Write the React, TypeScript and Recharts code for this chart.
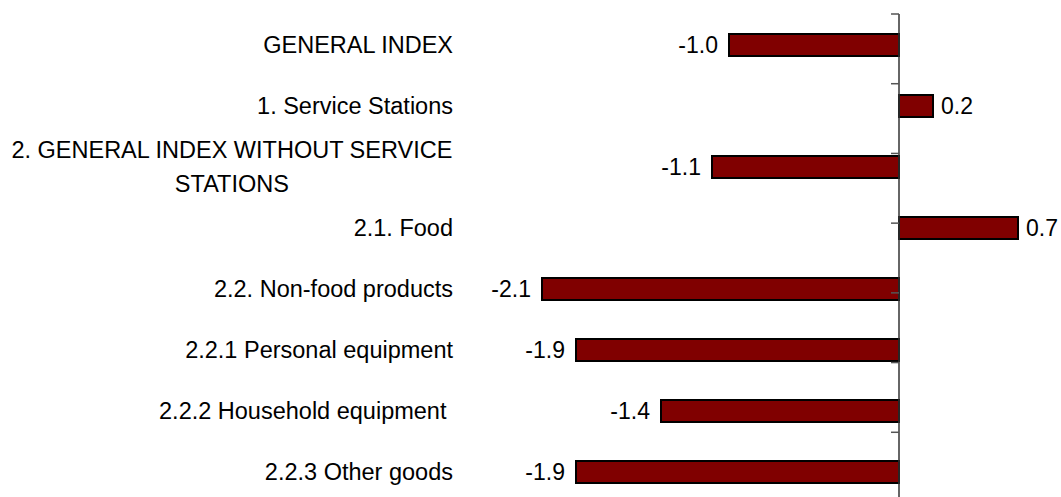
import { BarChart, Bar, XAxis, YAxis, ReferenceLine, LabelList } from 'recharts'

const categories = [
  'GENERAL INDEX',
  '1. Service Stations',
  '2. GENERAL INDEX WITHOUT SERVICE\nSTATIONS',
  '2.1. Food',
  '2.2. Non-food products',
  '2.2.1 Personal equipment',
  '2.2.2 Household equipment ',
  '2.2.3 Other goods',
]
const values = [-1.0, 0.2, -1.1, 0.7, -2.1, -1.9, -1.4, -1.9]
const boundaries = [0, 1, 2, 3, 4, 5, 6, 7]

const FONT = '"Liberation Sans", Arial, sans-serif'
const CAT_SIZE = 23.5
const VAL_SIZE = 23
const BAR = '#800000'
const AXIS = '#333333'

const data = categories.map((name, i) => ({ name, value: values[i] }))

function measure(text: string) {
  const ctx = document.createElement('canvas').getContext('2d')
  if (!ctx) return text.length * CAT_SIZE * 0.55
  ctx.font = `${CAT_SIZE}px ${FONT}`
  return ctx.measureText(text).width
}

function CategoryTick(props: any) {
  const { x, y, payload } = props
  const lines: string[] = String(payload.value).split('\n')
  if (lines.length === 1) {
    return (
      <text x={x} y={y} dy="0.35em" textAnchor="end" fontSize={CAT_SIZE} fontFamily={FONT} fill="#000" style={{ whiteSpace: 'pre' }}>
        {lines[0]}
      </text>
    )
  }
  const widest = Math.max(...lines.map(measure))
  const cx = x - widest / 2
  const lh = 34
  const top = y - ((lines.length - 1) * lh) / 2
  return (
    <text textAnchor="middle" fontSize={CAT_SIZE} fontFamily={FONT} fill="#000">
      {lines.map((l, i) => (
        <tspan key={i} x={cx} y={top + i * lh} dy="0.35em">
          {l}
        </tspan>
      ))}
    </text>
  )
}

function ValueLabel(props: any) {
  const { x, y, width, height, value } = props
  const left = Math.min(x, x + width)
  const right = Math.max(x, x + width)
  const neg = value < 0
  return (
    <text
      x={neg ? left - 11 : right + 8}
      y={y + height / 2}
      dy="0.35em"
      textAnchor={neg ? 'end' : 'start'}
      fontSize={VAL_SIZE}
      fontFamily={FONT}
      fill="#000"
    >
      {value.toFixed(1)}
    </text>
  )
}

export default function App() {
  return (
    <div style={{ position: 'absolute', left: 0, top: 0, width: 1061, height: 497, overflow: 'hidden', background: '#fff' }}>
      <BarChart
        width={1061}
        height={510}
        data={data}
        layout="vertical"
        margin={{ top: 14, right: 26, bottom: 8, left: 0 }}
      >
        <XAxis type="number" domain={[-2.5, 0.8]} hide />
        <YAxis
          type="category"
          dataKey="name"
          width={474}
          axisLine={false}
          tickLine={false}
          tickSize={0}
          tickMargin={21}
          interval={0}
          tick={<CategoryTick />}
        />
        <YAxis yAxisId="bounds" type="number" domain={[0, 8]} reversed hide />
        <ReferenceLine x={0} stroke={AXIS} strokeWidth={1.5} />
        {boundaries.map((b) => (
          <ReferenceLine
            key={b}
            yAxisId="bounds"
            segment={[
              { x: -0.047, y: b },
              { x: 0, y: b },
            ]}
            stroke="#555"
            strokeWidth={1.5}
          />
        ))}
        <Bar dataKey="value" fill={BAR} stroke="#000" strokeWidth={2} barSize={22} isAnimationActive={false}>
          <LabelList dataKey="value" content={<ValueLabel />} />
        </Bar>
      </BarChart>
    </div>
  )
}
